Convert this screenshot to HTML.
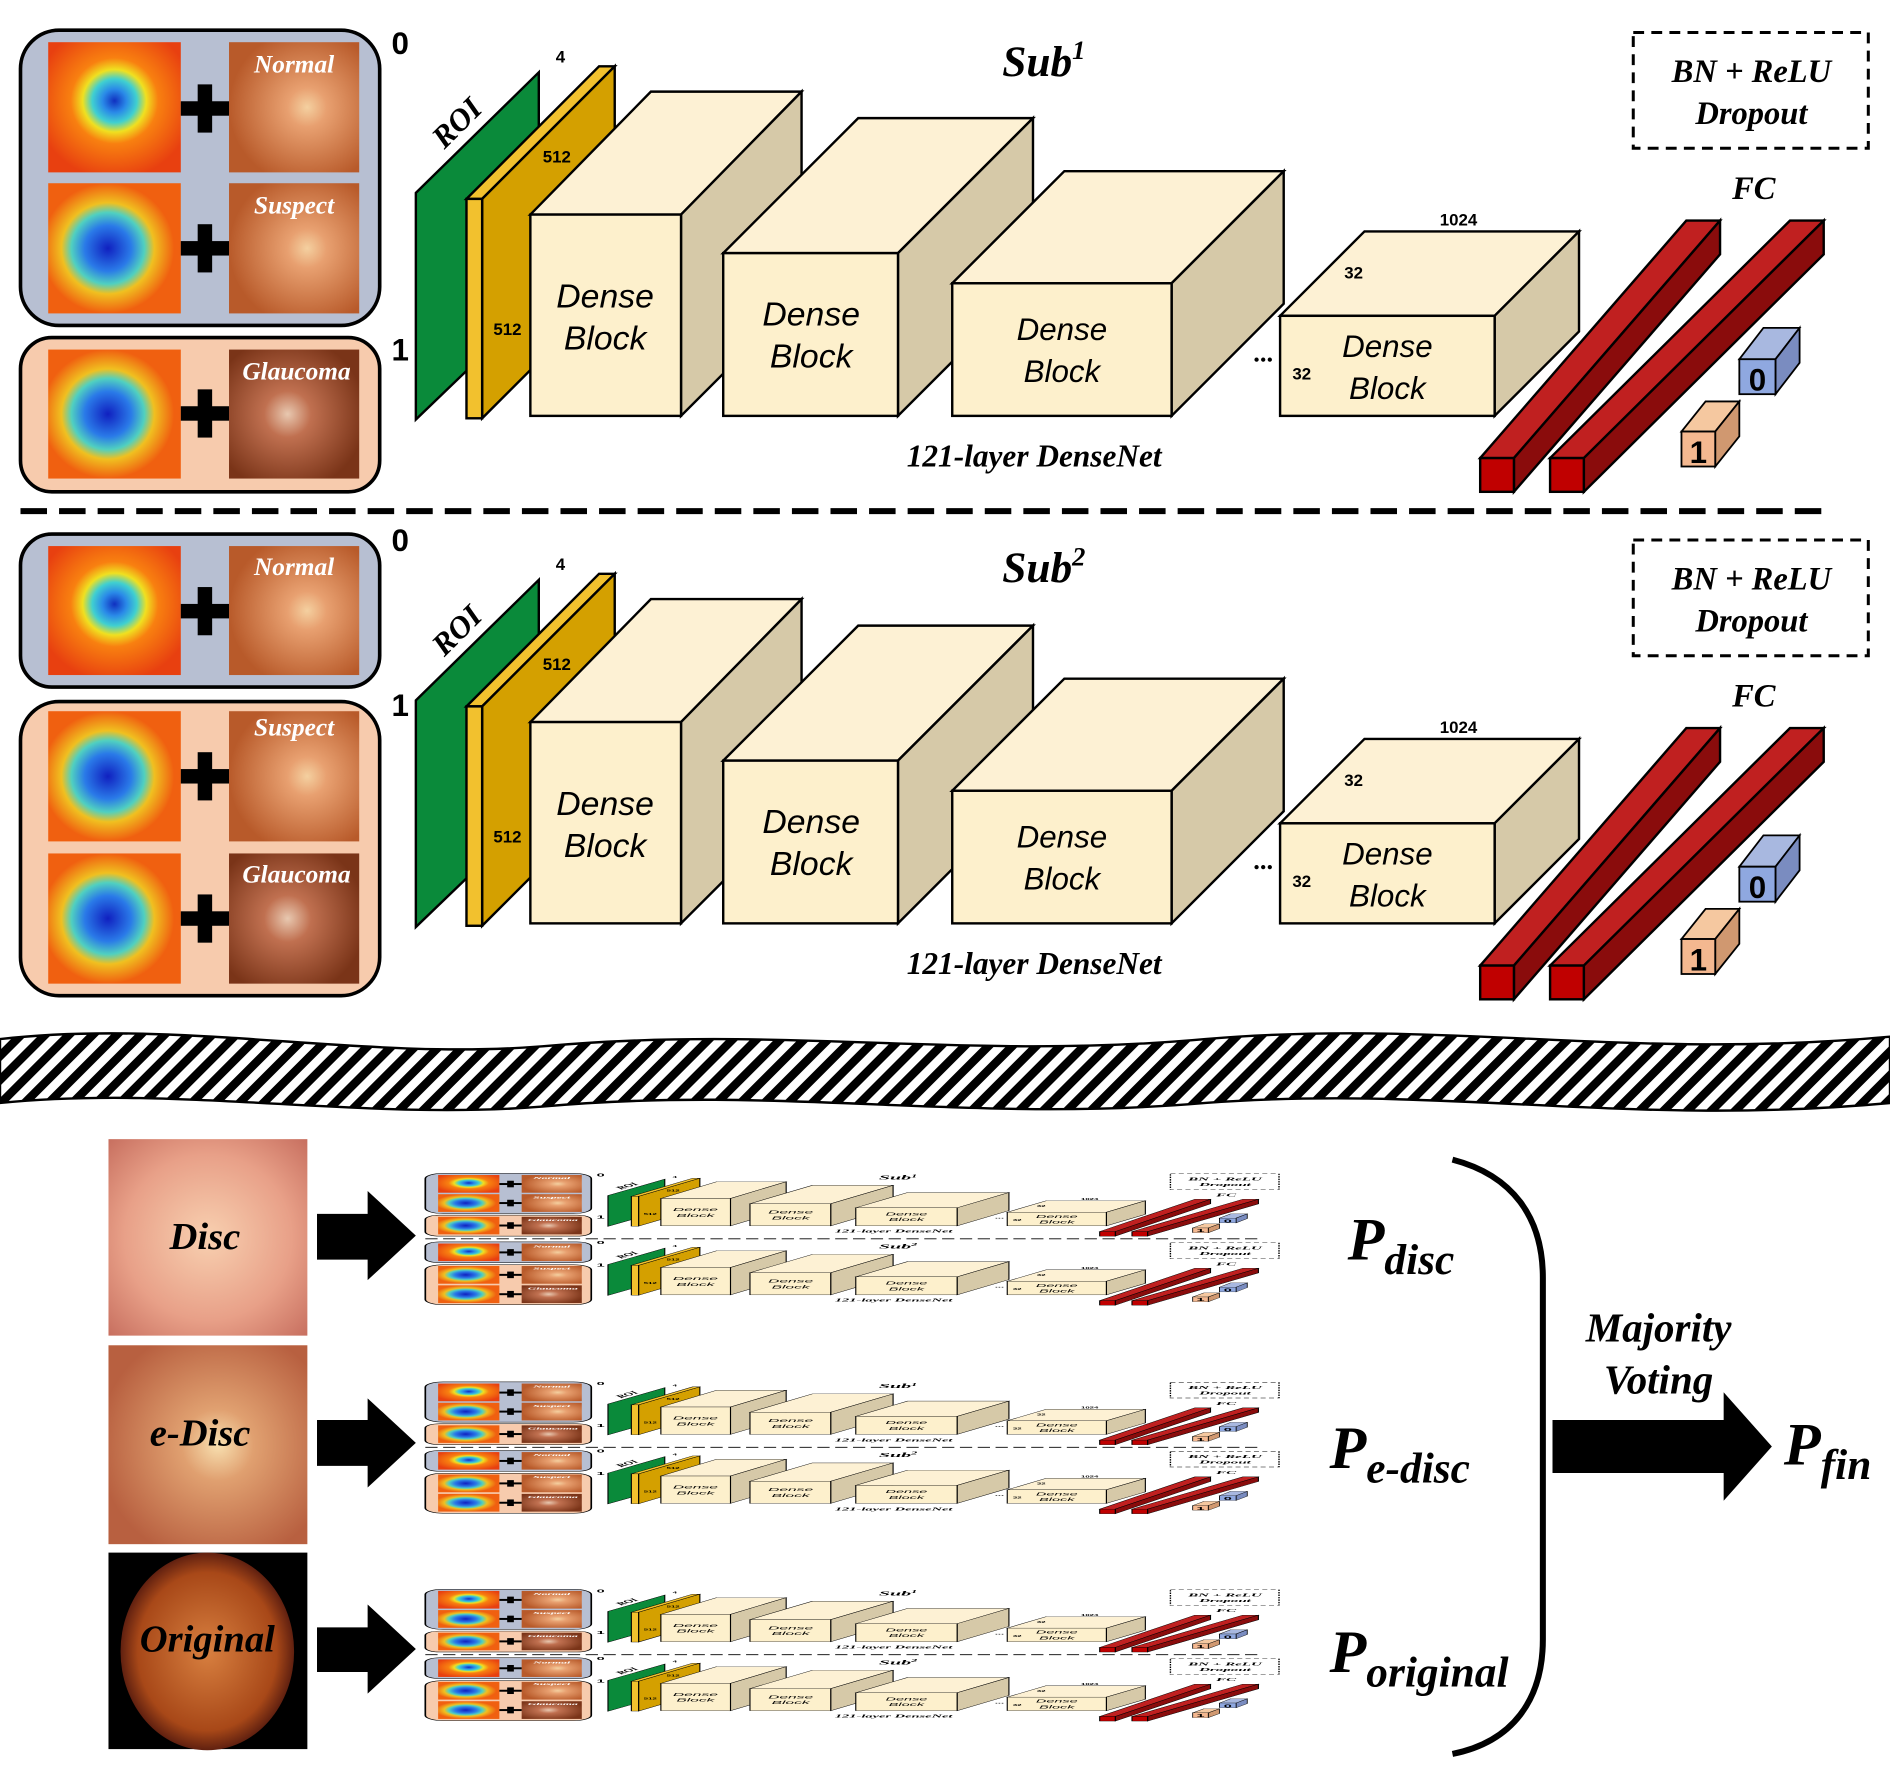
<!DOCTYPE html>
<html><head><meta charset="utf-8"><style>html,body{margin:0;padding:0;background:#fff}svg{display:block}</style></head>
<body>
<svg width="1890" height="1772" viewBox="0 0 1568 1470" preserveAspectRatio="none" xmlns="http://www.w3.org/2000/svg" font-family="Liberation Serif, serif">
<defs>
<radialGradient id="heat" cx="0.5" cy="0.45" r="0.6">
<stop offset="0" stop-color="#1030c0"/><stop offset="0.15" stop-color="#2a8ae8"/><stop offset="0.28" stop-color="#40d0d0"/><stop offset="0.4" stop-color="#f0e020"/><stop offset="0.55" stop-color="#f88010"/><stop offset="1" stop-color="#e84010"/></radialGradient>
<radialGradient id="heat2" cx="0.45" cy="0.5" r="0.5">
<stop offset="0" stop-color="#1020c0"/><stop offset="0.35" stop-color="#2a7ae8"/><stop offset="0.55" stop-color="#50d0c0"/><stop offset="0.7" stop-color="#f0c020"/><stop offset="1" stop-color="#f06010"/></radialGradient>
<radialGradient id="fund" cx="0.6" cy="0.5" r="0.6">
<stop offset="0" stop-color="#f4d0a0"/><stop offset="0.25" stop-color="#e8a070"/><stop offset="1" stop-color="#b85a2a"/></radialGradient>
<radialGradient id="fundg" cx="0.45" cy="0.5" r="0.6">
<stop offset="0" stop-color="#e8c8b0"/><stop offset="0.3" stop-color="#c07050"/><stop offset="1" stop-color="#7a3418"/></radialGradient>
<radialGradient id="disc" cx="0.5" cy="0.5" r="0.7">
<stop offset="0" stop-color="#f8d0b0"/><stop offset="0.6" stop-color="#e8a088"/><stop offset="1" stop-color="#c87060"/></radialGradient>
<radialGradient id="edisc" cx="0.55" cy="0.5" r="0.6">
<stop offset="0" stop-color="#f8e0b0"/><stop offset="0.3" stop-color="#e0a070"/><stop offset="1" stop-color="#b86040"/></radialGradient>
<radialGradient id="orig" cx="0.5" cy="0.5" r="0.5">
<stop offset="0" stop-color="#d88040"/><stop offset="0.8" stop-color="#a84818"/><stop offset="1" stop-color="#602010"/></radialGradient>
<pattern id="hatch" width="14" height="14" patternUnits="userSpaceOnUse" patternTransform="rotate(45)">
<rect width="14" height="14" fill="#fff"/><rect width="7" height="14" fill="#000"/></pattern>

<g id="plus"><rect x="-6" y="-20" width="12" height="40" fill="#000"/><rect x="-20" y="-6" width="40" height="12" fill="#000"/></g>

<g id="net">
<!-- ROI -->
<polygon points="345,160 447,60 447,250 345,348" fill="#0a8a3a" stroke="#000" stroke-width="2"/>
<text x="385" y="108" font-size="26" font-style="italic" font-weight="bold" transform="rotate(-45 385 108)" text-anchor="middle">ROI</text>
<!-- yellow slab -->
<polygon points="387,165 497,55 510,55 400,165" fill="#f2c12e" stroke="#000" stroke-width="2"/>
<polygon points="400,165 510,55 510,237 400,347" fill="#d4a000" stroke="#000" stroke-width="2"/>
<rect x="387" y="165" width="13" height="182" fill="#f2c12e" stroke="#000" stroke-width="2"/>
<text x="465" y="52" font-family="Liberation Sans, sans-serif" font-size="14" font-weight="bold" text-anchor="middle">4</text>
<text x="462" y="135" font-family="Liberation Sans, sans-serif" font-size="14" font-weight="bold" text-anchor="middle">512</text>
<text x="421" y="278" font-family="Liberation Sans, sans-serif" font-size="14" font-weight="bold" text-anchor="middle">512</text>
<!-- block1 -->
<polygon points="440,178 540,76 665,76 565,178" fill="#fdf1d4" stroke="#000" stroke-width="2"/>
<polygon points="565,178 665,76 665,245 565,345" fill="#d6c9a8" stroke="#000" stroke-width="2"/>
<rect x="440" y="178" width="125" height="167" fill="#fdf0cc" stroke="#000" stroke-width="2"/>
<text x="502" y="255" font-size="28" font-style="italic" text-anchor="middle" font-family="Liberation Sans, sans-serif">Dense</text>
<text x="502" y="290" font-size="28" font-style="italic" text-anchor="middle" font-family="Liberation Sans, sans-serif">Block</text>
<!-- block2 -->
<polygon points="600,210 712,98 857,98 745,210" fill="#fdf1d4" stroke="#000" stroke-width="2"/>
<polygon points="745,210 857,98 857,233 745,345" fill="#d6c9a8" stroke="#000" stroke-width="2"/>
<rect x="600" y="210" width="145" height="135" fill="#fdf0cc" stroke="#000" stroke-width="2"/>
<text x="673" y="270" font-size="28" font-style="italic" text-anchor="middle" font-family="Liberation Sans, sans-serif">Dense</text>
<text x="673" y="305" font-size="28" font-style="italic" text-anchor="middle" font-family="Liberation Sans, sans-serif">Block</text>
<!-- block3 -->
<polygon points="790,235 883,142 1065,142 972,235" fill="#fdf1d4" stroke="#000" stroke-width="2"/>
<polygon points="972,235 1065,142 1065,252 972,345" fill="#d6c9a8" stroke="#000" stroke-width="2"/>
<rect x="790" y="235" width="182" height="110" fill="#fdf0cc" stroke="#000" stroke-width="2"/>
<text x="881" y="282" font-size="26" font-style="italic" text-anchor="middle" font-family="Liberation Sans, sans-serif">Dense</text>
<text x="881" y="317" font-size="26" font-style="italic" text-anchor="middle" font-family="Liberation Sans, sans-serif">Block</text>
<text x="1048" y="300" font-size="22" font-weight="bold" text-anchor="middle">...</text>
<!-- block4 -->
<polygon points="1062,262 1132,192 1310,192 1240,262" fill="#fdf1d4" stroke="#000" stroke-width="2"/>
<polygon points="1240,262 1310,192 1310,275 1240,345" fill="#d6c9a8" stroke="#000" stroke-width="2"/>
<rect x="1062" y="262" width="178" height="83" fill="#fdf0cc" stroke="#000" stroke-width="2"/>
<text x="1151" y="296" font-size="26" font-style="italic" text-anchor="middle" font-family="Liberation Sans, sans-serif">Dense</text>
<text x="1151" y="331" font-size="26" font-style="italic" text-anchor="middle" font-family="Liberation Sans, sans-serif">Block</text>
<text x="1210" y="187" font-family="Liberation Sans, sans-serif" font-size="14" font-weight="bold" text-anchor="middle">1024</text>
<text x="1123" y="231" font-family="Liberation Sans, sans-serif" font-size="14" font-weight="bold" text-anchor="middle">32</text>
<text x="1080" y="315" font-family="Liberation Sans, sans-serif" font-size="14" font-weight="bold" text-anchor="middle">32</text>
<text x="858" y="387" font-size="26" font-style="italic" font-weight="bold" text-anchor="middle">121-layer DenseNet</text>
<!-- BN box -->
<rect x="1355" y="27" width="195" height="96" fill="none" stroke="#000" stroke-width="2.5" stroke-dasharray="9,6"/>
<text x="1453" y="68" font-size="27" font-style="italic" font-weight="bold" text-anchor="middle">BN + ReLU</text>
<text x="1453" y="103" font-size="27" font-style="italic" font-weight="bold" text-anchor="middle">Dropout</text>
<text x="1455" y="165" font-size="27" font-style="italic" font-weight="bold" text-anchor="middle">FC</text>
<!-- FC bars -->
<polygon points="1228,380 1399,183 1427,183 1256,380" fill="#c02020" stroke="#000" stroke-width="2"/>
<polygon points="1256,380 1427,183 1427,211 1256,408" fill="#8a0c0c" stroke="#000" stroke-width="2"/>
<rect x="1228" y="380" width="28" height="28" fill="#c00000" stroke="#000" stroke-width="2"/>
<polygon points="1286,380 1485,183 1513,183 1314,380" fill="#c02020" stroke="#000" stroke-width="2"/>
<polygon points="1314,380 1513,183 1513,211 1314,408" fill="#8a0c0c" stroke="#000" stroke-width="2"/>
<rect x="1286" y="380" width="28" height="28" fill="#c00000" stroke="#000" stroke-width="2"/>
<!-- cubes -->
<polygon points="1443,298 1463,272 1493,272 1473,298" fill="#a8b8e0" stroke="#000" stroke-width="1.5"/>
<polygon points="1473,298 1493,272 1493,301 1473,327" fill="#7a8cc0" stroke="#000" stroke-width="1.5"/>
<rect x="1443" y="298" width="30" height="29" fill="#8fa8e0" stroke="#000" stroke-width="1.5"/>
<text x="1458" y="324" font-family="Liberation Sans, sans-serif" font-size="26" font-weight="bold" text-anchor="middle">0</text>
<polygon points="1395,358 1415,333 1443,333 1423,358" fill="#f5c8a0" stroke="#000" stroke-width="1.5"/>
<polygon points="1423,358 1443,333 1443,362 1423,387" fill="#d09870" stroke="#000" stroke-width="1.5"/>
<rect x="1395" y="358" width="28" height="29" fill="#f4b890" stroke="#000" stroke-width="1.5"/>
<text x="1409" y="384" font-family="Liberation Sans, sans-serif" font-size="26" font-weight="bold" text-anchor="middle">1</text>
</g>

<g id="top">
<!-- Sub1 left -->
<rect x="17" y="25" width="298" height="245" rx="32" fill="#b7bfd2" stroke="#000" stroke-width="3"/>
<rect x="17" y="280" width="298" height="128" rx="26" fill="#f7cbad" stroke="#000" stroke-width="3"/>
<rect x="40" y="35" width="110" height="108" fill="url(#heat)"/>
<rect x="190" y="35" width="108" height="108" fill="url(#fund)"/>
<rect x="40" y="152" width="110" height="108" fill="url(#heat2)"/>
<rect x="190" y="152" width="108" height="108" fill="url(#fund)"/>
<rect x="40" y="290" width="110" height="107" fill="url(#heat2)"/>
<rect x="190" y="290" width="108" height="107" fill="url(#fundg)"/>
<use href="#plus" x="170" y="90"/><use href="#plus" x="170" y="206"/><use href="#plus" x="170" y="343"/>
<g font-size="21" font-style="italic" font-weight="bold" fill="#fff" text-anchor="middle">
<text x="244" y="60">Normal</text><text x="244" y="177">Suspect</text><text x="246" y="315">Glaucoma</text></g>
<text x="332" y="45" font-size="26" font-weight="bold" font-family="Liberation Sans, sans-serif" text-anchor="middle">0</text>
<text x="332" y="299" font-size="26" font-weight="bold" font-family="Liberation Sans, sans-serif" text-anchor="middle">1</text>
<text x="866" y="63" font-size="36" font-style="italic" font-weight="bold" text-anchor="middle">Sub<tspan font-size="22" dy="-14">1</tspan></text>
<use href="#net"/>
<line x1="17" y1="424" x2="1515" y2="424" stroke="#000" stroke-width="5" stroke-dasharray="22,10"/>
<!-- Sub2 -->
<rect x="17" y="443" width="298" height="127" rx="26" fill="#b7bfd2" stroke="#000" stroke-width="3"/>
<rect x="17" y="582" width="298" height="244" rx="32" fill="#f7cbad" stroke="#000" stroke-width="3"/>
<rect x="40" y="453" width="110" height="107" fill="url(#heat)"/>
<rect x="190" y="453" width="108" height="107" fill="url(#fund)"/>
<rect x="40" y="590" width="110" height="108" fill="url(#heat2)"/>
<rect x="190" y="590" width="108" height="108" fill="url(#fund)"/>
<rect x="40" y="708" width="110" height="108" fill="url(#heat2)"/>
<rect x="190" y="708" width="108" height="108" fill="url(#fundg)"/>
<use href="#plus" x="170" y="507"/><use href="#plus" x="170" y="644"/><use href="#plus" x="170" y="762"/>
<g font-size="21" font-style="italic" font-weight="bold" fill="#fff" text-anchor="middle">
<text x="244" y="477">Normal</text><text x="244" y="610">Suspect</text><text x="246" y="732">Glaucoma</text></g>
<text x="332" y="457" font-size="26" font-weight="bold" font-family="Liberation Sans, sans-serif" text-anchor="middle">0</text>
<text x="332" y="594" font-size="26" font-weight="bold" font-family="Liberation Sans, sans-serif" text-anchor="middle">1</text>
<text x="866" y="483" font-size="36" font-style="italic" font-weight="bold" text-anchor="middle">Sub<tspan font-size="22" dy="-14">2</tspan></text>
<use href="#net" y="421"/>
</g>
</defs>

<use href="#top"/>

<!-- hatched wavy band -->
<path d="M0,862 C150,845 300,880 450,868 C650,850 800,880 1000,862 C1200,845 1350,880 1568,860 L1568,915 C1350,935 1200,900 1000,915 C800,932 650,900 450,918 C300,930 150,900 0,915 Z" fill="url(#hatch)" stroke="#000" stroke-width="2"/>

<!-- bottom images -->
<rect x="90" y="945" width="165" height="163" fill="url(#disc)"/>
<rect x="90" y="1116" width="165" height="165" fill="url(#edisc)"/>
<rect x="90" y="1288" width="165" height="163" fill="#000"/>
<ellipse cx="172" cy="1370" rx="72" ry="82" fill="url(#orig)"/>
<g font-size="32" font-style="italic" font-weight="bold" text-anchor="middle">
<text x="170" y="1036">Disc</text><text x="166" y="1199">e-Disc</text><text x="172" y="1370">Original</text></g>

<!-- arrows -->
<g fill="#000">
<polygon points="263,1007 305,1007 305,988 345,1025 305,1062 305,1045 263,1045"/>
<polygon points="263,1178 305,1178 305,1160 345,1197 305,1234 305,1216 263,1216"/>
<polygon points="263,1350 305,1350 305,1331 345,1368 305,1405 305,1387 263,1387"/>
</g>

<!-- thumbnails -->
<g transform="translate(345,970) scale(0.462,0.136)"><use href="#top"/></g>
<g transform="translate(345,1143) scale(0.462,0.136)"><use href="#top"/></g>
<g transform="translate(345,1315) scale(0.462,0.136)"><use href="#top"/></g>

<!-- P labels -->
<g font-style="italic" font-weight="bold">
<text x="1118" y="1045" font-size="50">P<tspan font-size="36" dy="12">disc</tspan></text>
<text x="1103" y="1218" font-size="50">P<tspan font-size="36" dy="12">e-disc</tspan></text>
<text x="1103" y="1387" font-size="50">P<tspan font-size="36" dy="12">original</tspan></text>
<text x="1480" y="1215" font-size="50">P<tspan font-size="36" dy="12">fin</tspan></text>
<text x="1376" y="1113" font-size="34" text-anchor="middle">Majority</text>
<text x="1376" y="1156" font-size="34" text-anchor="middle">Voting</text>
</g>
<path d="M1205,962 C1255,975 1280,1010 1280,1060 L1280,1360 C1280,1410 1255,1445 1205,1455" fill="none" stroke="#000" stroke-width="5"/>
<polygon points="1288,1178 1430,1178 1430,1155 1470,1200 1430,1245 1430,1222 1288,1222" fill="#000"/>
</svg>
</body></html>
